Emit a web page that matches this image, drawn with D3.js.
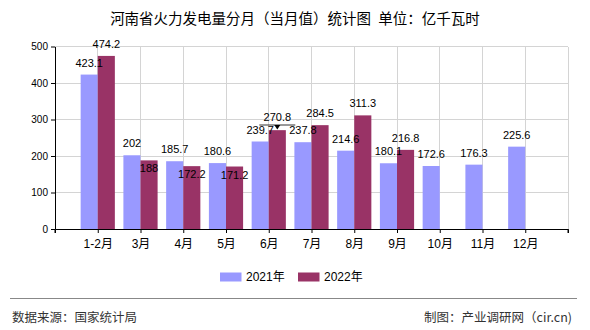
<!DOCTYPE html>
<html><head><meta charset="utf-8">
<script src="https://cdn.jsdelivr.net/npm/d3@7"></script>
<style>
body{margin:0;background:#fff;}
svg{display:block;}
text{font-family:"Liberation Sans","Noto Sans CJK SC",sans-serif;}
.cjk{font-family:"Noto Sans CJK SC","Liberation Sans",sans-serif;}
</style></head>
<body>
<svg id="chart" width="590" height="330"></svg>
<script>
const categories = ["1-2月","3月","4月","5月","6月","7月","8月","9月","10月","11月","12月"];
const series2021 = [423.1,202,185.7,180.6,239.7,237.8,214.6,180.1,172.6,176.3,225.6];
const series2022 = [474.2,188,172.2,171.2,270.8,284.5,311.3,216.8,null,null,null];
const seriesNames = ["2021年","2022年"];
const yTicks = [0,100,200,300,400,500];
const colors = ["#9999FF","#993366"];

const svg = d3.select("#chart");
const L = 55, R = 568, T = 46.5, B = 229;

const x = d3.scalePoint().domain(categories).range([L, R]).padding(1);
const step = x.step();
const bw = step * 0.4;
const y = d3.scaleLinear().domain([0, 500]).range([B, T]);

// title
svg.append("text").attr("class","cjk").attr("x", 295).attr("y", 24).attr("text-anchor","middle")
  .attr("font-size", 14.5).attr("fill","#000").attr("xml:space","preserve")
  .text("河南省火力发电量分月（当月值）统计图\u2002单位：亿千瓦时");

// horizontal gridlines
svg.append("g").selectAll("line").data(yTicks.slice(1)).join("line")
  .attr("x1", L).attr("x2", R).attr("y1", d => y(d)).attr("y2", d => y(d))
  .attr("stroke", "#d4d4d4").attr("stroke-width", 1).attr("shape-rendering","crispEdges");
// vertical gridlines
svg.append("g").selectAll("line").data(categories).join("line")
  .attr("x1", d => x(d)).attr("x2", d => x(d)).attr("y1", T).attr("y2", B)
  .attr("stroke", "#d4d4d4").attr("shape-rendering","crispEdges");
svg.append("line").attr("x1", R).attr("x2", R).attr("y1", T).attr("y2", B)
  .attr("stroke", "#d4d4d4").attr("shape-rendering","crispEdges");

// bars
const data = categories.map((c, i) => ({c, v: [series2021[i], series2022[i]]}));
const g = svg.append("g");
[0,1].forEach(s => {
  g.selectAll("rect.s"+s).data(data.filter(d => d.v[s] != null)).join("rect")
    .attr("class","s"+s)
    .attr("x", d => x(d.c) - bw + s*bw).attr("width", bw)
    .attr("y", d => y(d.v[s])).attr("height", d => B - y(d.v[s]))
    .attr("fill", colors[s]);
});

// value labels
const lab = svg.append("g").attr("font-size", 11).attr("fill", "#000").attr("text-anchor","middle");
data.forEach(d => {
  const cx0 = x(d.c) - bw/2, cx1 = x(d.c) + bw/2;
  const b0 = y(d.v[0]) - 8;
  lab.append("text").attr("x", cx0).attr("y", b0).text(d.v[0]);
  if (d.v[1] != null) {
    let b1, leader = false;
    if (d.v[1] < d.v[0]) b1 = y(d.v[1]) + 12;
    else {
      b1 = y(d.v[1]) - 8;
      if (b0 - b1 < 13) { b1 = b0 - 13; leader = true; }
    }
    lab.append("text").attr("x", cx1).attr("y", b1).text(d.v[1]);
    if (leader) {
      lab.append("line").attr("x1", cx1 - 18).attr("x2", cx1 + 18)
        .attr("y1", b1 + 4.5).attr("y2", b1 + 4.5).attr("stroke", "#333").attr("stroke-width", 1);
      lab.append("path").attr("d", `M${cx1-3},${b1+4.5}L${cx1+3},${b1+4.5}L${cx1},${b1+9}Z`).attr("fill","#000");
    }
  }
});

// axes
const ya = svg.append("g").attr("transform", `translate(${L},0)`)
  .call(d3.axisLeft(y).tickValues(yTicks).tickSize(4).tickSizeOuter(0).tickPadding(3));
ya.selectAll("text").attr("font-size", 10).attr("fill","#000");
ya.selectAll("line,path").attr("stroke","#000");

const xa = svg.append("g").attr("transform", `translate(0,${B})`)
  .call(d3.axisBottom(x).tickSize(4).tickSizeOuter(4).tickPadding(4));
xa.selectAll("text").attr("font-size", 12).attr("fill","#000").attr("dy","0.9em");
xa.selectAll("line,path").attr("stroke","#000");
xa.append("line").attr("x1", L).attr("x2", L).attr("y1", 0).attr("y2", 4).attr("stroke","#000");
xa.append("line").attr("x1", R).attr("x2", R).attr("y1", 0).attr("y2", 4).attr("stroke","#000");

// legend
const leg = svg.append("g");
const legX = [220, 298];
seriesNames.forEach((n, i) => {
  leg.append("rect").attr("x", legX[i]).attr("y", 272.5).attr("width", 21.5).attr("height", 9).attr("fill", colors[i]);
  leg.append("text").attr("x", legX[i] + 26).attr("y", 281).attr("font-size", 12).attr("fill","#000").text(n);
});

// footer
svg.append("line").attr("x1", 10).attr("x2", 577).attr("y1", 298.5).attr("y2", 298.5).attr("stroke", "#888").attr("stroke-width", 1.2);
svg.append("text").attr("class","cjk").attr("x", 12).attr("y", 322).attr("font-size", 12.5).attr("fill","#333").text("数据来源：国家统计局");
svg.append("text").attr("class","cjk").attr("x", 572).attr("y", 322).attr("text-anchor","end").attr("font-size", 12.5).attr("fill","#333").text("制图：产业调研网（cir.cn)");
</script>
</body></html>
